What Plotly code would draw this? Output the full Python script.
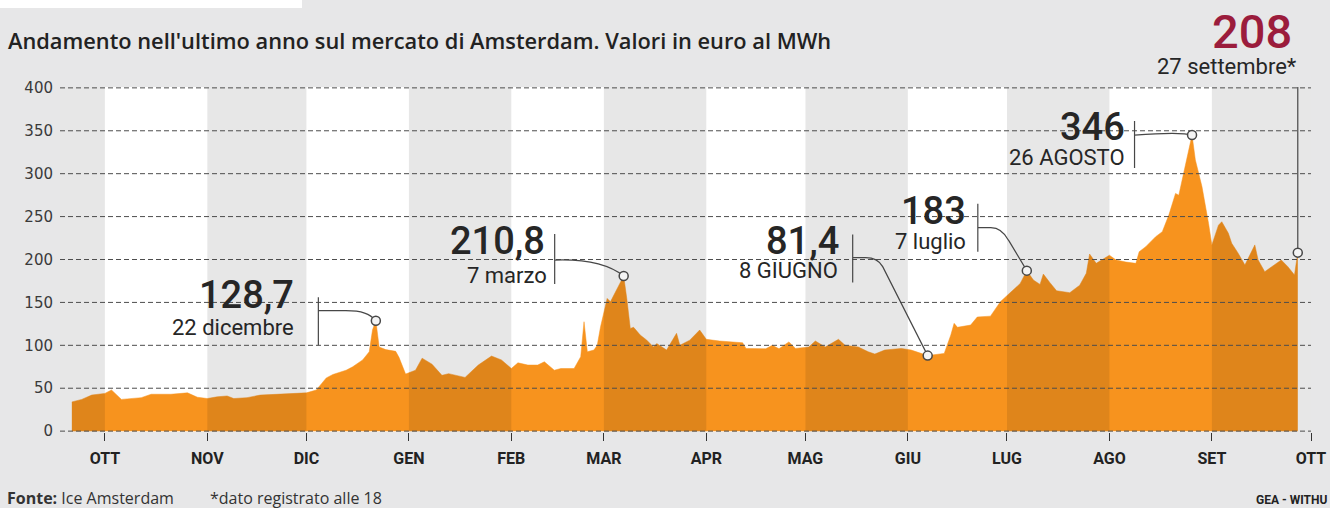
import plotly.graph_objects as go

# ---------------- data ----------------
dates = [
    "2021-09-21", "2021-09-24", "2021-09-27", "2021-10-01", "2021-10-03", "2021-10-05",
    "2021-10-06", "2021-10-12", "2021-10-15", "2021-10-21", "2021-10-26", "2021-10-29",
    "2021-11-01", "2021-11-04", "2021-11-07", "2021-11-09", "2021-11-13", "2021-11-17",
    "2021-11-22", "2021-11-27", "2021-12-01", "2021-12-04", "2021-12-07", "2021-12-09",
    "2021-12-13", "2021-12-15", "2021-12-18", "2021-12-20", "2021-12-21", "2021-12-22",
    "2021-12-23", "2021-12-25", "2021-12-28", "2021-12-29", "2021-12-31", "2022-01-03",
    "2022-01-05", "2022-01-08", "2022-01-11", "2022-01-13", "2022-01-18", "2022-01-22",
    "2022-01-26", "2022-01-29", "2022-02-01", "2022-02-03", "2022-02-06", "2022-02-09",
    "2022-02-11", "2022-02-14", "2022-02-16", "2022-02-20", "2022-02-22", "2022-02-23",
    "2022-02-24", "2022-02-26", "2022-02-27", "2022-02-28", "2022-03-02", "2022-03-03",
    "2022-03-06", "2022-03-07", "2022-03-08", "2022-03-09", "2022-03-10", "2022-03-12",
    "2022-03-14", "2022-03-16", "2022-03-17", "2022-03-20", "2022-03-23", "2022-03-24",
    "2022-03-27", "2022-03-30", "2022-04-01", "2022-04-05", "2022-04-12", "2022-04-13",
    "2022-04-19", "2022-04-21", "2022-04-23", "2022-04-26", "2022-04-28", "2022-05-02",
    "2022-05-04", "2022-05-07", "2022-05-11", "2022-05-13", "2022-05-17", "2022-05-20",
    "2022-05-22", "2022-05-25", "2022-05-30", "2022-06-02", "2022-06-07", "2022-06-12",
    "2022-06-14", "2022-06-15", "2022-06-16", "2022-06-20", "2022-06-22", "2022-06-26",
    "2022-06-29", "2022-07-03", "2022-07-05", "2022-07-07", "2022-07-09", "2022-07-11",
    "2022-07-12", "2022-07-14", "2022-07-16", "2022-07-20", "2022-07-23", "2022-07-25",
    "2022-07-26", "2022-07-28", "2022-08-01", "2022-08-03", "2022-08-06", "2022-08-09",
    "2022-08-10", "2022-08-12", "2022-08-15", "2022-08-17", "2022-08-19", "2022-08-21",
    "2022-08-22", "2022-08-24", "2022-08-26", "2022-08-27", "2022-08-29", "2022-08-31",
    "2022-09-01", "2022-09-03", "2022-09-04", "2022-09-06", "2022-09-07", "2022-09-09",
    "2022-09-11", "2022-09-14", "2022-09-15", "2022-09-17", "2022-09-19", "2022-09-22",
    "2022-09-24", "2022-09-26", "2022-09-27",
]
prices = [
    34, 37, 42, 44, 48, 40,
    37, 39, 43, 43, 44.6, 39.5,
    38, 40, 41, 38, 39, 42,
    43, 44, 44.6, 48, 62, 66,
    71, 75, 83, 92.5, 118, 128.7,
    98, 95, 93, 86, 66.5, 71,
    85, 78, 65, 67, 62.6, 77,
    87.5, 83, 73, 79.6, 77, 77,
    80.8, 71, 73, 73, 86.7, 127.5,
    92.5, 94.5, 100, 121.6, 154.7, 150.8,
    172, 180.7, 152.7, 119.7, 121, 112,
    106, 98, 102, 94.5, 114, 100,
    106, 117.8, 107, 105, 103, 96.4,
    96, 100, 96, 104, 96.4, 98,
    105, 98, 107, 100, 98, 92.5,
    89.8, 94.5, 96.4, 94.5, 88, 90.6,
    112, 125.6, 121, 123.6, 133, 134,
    150.8, 164.4, 172, 187, 176, 171,
    183, 173, 163.6, 161.3, 170, 184,
    206.4, 195.5, 205, 199.4, 197, 195.5,
    209, 215, 226.6, 232.4, 252, 277,
    275, 310, 345, 316, 285, 242,
    217, 240, 244, 230.5, 219, 207,
    193.6, 217, 199.4, 185.8, 191.6, 199.4,
    191.6, 182, 208,
]

month_ticks = [
    "2021-10-01", "2021-11-01", "2021-12-01", "2022-01-01", "2022-02-01", "2022-03-01",
    "2022-04-01", "2022-05-01", "2022-06-01", "2022-07-01", "2022-08-01", "2022-09-01",
    "2022-10-01",
]
month_labels = ["OTT", "NOV", "DIC", "GEN", "FEB", "MAR", "APR", "MAG", "GIU", "LUG",
                "AGO", "SET", "OTT"]
y_ticks = [0, 50, 100, 150, 200, 250, 300, 350, 400]

hl_dates = ["2021-12-22", "2022-03-07", "2022-06-07", "2022-07-07", "2022-08-26", "2022-09-27"]
hl_value_labels = ["128,7", "210,8", "81,4", "183", "346", "208"]
hl_date_labels = ["22 dicembre", "7 marzo", "8 GIUGNO", "7 luglio", "26 AGOSTO", "27 settembre*"]

title_text = "Andamento nell'ultimo anno sul mercato di Amsterdam. Valori in euro al MWh"
source_text = "<b>Fonte:</b> Ice Amsterdam"
note_text = "*dato registrato alle 18"
credit_text = "<b>GEA - WITHU</b>"

# ---------------- styling / layout ----------------
ORANGE = "#f7931e"
PAPER = "#e7e7e8"
INK = "#262626"
LINE = "#474747"
RED = "#9b1c3c"

W, H = 1330, 508
ML, MR, MT, MB = 60, 19, 87, 76
PW, PH = W - ML - MR, H - MT - MB


def px(x):
    return (x - ML) / PW


def py(y):
    return (H - MB - y) / PH


# label geometry, in pixels relative to the highlighted point (y up)
label_geom = [
    dict(path="M -57.5,-24.5 L -57.5,23.5 M -57.5,10 L -30,10 C -14,10 -6,7 0,0",
         big=(-80, 25.5), small=(-80, -6.5), big_size=38, color=INK),
    dict(path="M -69,-8 L -69,42 M -69,16 C -40,17 -15,12 0,0",
         big=(-77, 35), small=(-75, 1), big_size=38, color=INK),
    dict(path="M -75,73 L -75,121 M -75,98 L -62,98 Q -50,98 -45,89 L 0,0",
         big=(-87, 115), small=(-88, 85), big_size=38, color=INK),
    dict(path="M -49,19 L -49,67 M -49,43 L -36,43 Q -25,43 -18,30 L 0,0",
         big=(-59, 60), small=(-59, 29), big_size=38, color=INK),
    dict(path="M -57.5,-33 L -57.5,14 M -57.5,0 C -30,2 -10,3 0,0",
         big=(-65, 8), small=(-65, -22), big_size=38, color=INK),
    dict(path="M 0,0 L 0,176 M -144,171 L 0,171",
         big=(-4, 221), small=(1, 186), big_size=47, color=RED),
]

fig = go.Figure()
fig.add_trace(go.Scatter(
    x=dates, y=prices, mode="lines", fill="tozeroy",
    line=dict(color=ORANGE, width=0.5), fillcolor=ORANGE,
    hoverinfo="skip", showlegend=False,
))

x_start = "2021-09-17 10:00"
shapes = []
# grey month bands: darken the white plot background and the orange fill alike
band_edges = [x_start] + month_ticks
for i in range(len(band_edges) - 1):
    if i % 2 == 0:
        shapes.append(dict(type="rect", xref="x", yref="paper", x0=band_edges[i],
                           x1=band_edges[i + 1], y0=0, y1=1,
                           fillcolor="rgba(0,0,0,0.095)", line=dict(width=0),
                           layer="above"))
# dashed grid lines drawn over the area
for v in y_ticks:
    shapes.append(dict(type="line", xref="paper", yref="y", x0=0, x1=1, y0=v, y1=v,
                       line=dict(color="#4d4d4d", width=1, dash="5px,3px"),
                       layer="above"))

hl_values = [prices[dates.index(d)] for d in hl_dates]
annotations = []
for d, v, vt, dt, g in zip(hl_dates, hl_values, hl_value_labels, hl_date_labels, label_geom):
    shapes.append(dict(type="path", xref="x", yref="y", xsizemode="pixel",
                       ysizemode="pixel", xanchor=d, yanchor=v, path=g["path"],
                       line=dict(color=LINE, width=1.2), layer="above"))
    shapes.append(dict(type="circle", xref="x", yref="y", xsizemode="pixel",
                       ysizemode="pixel", xanchor=d, yanchor=v, x0=-4.5, x1=4.5,
                       y0=-4.5, y1=4.5, fillcolor="#f4f4f4",
                       line=dict(color=LINE, width=1.5), layer="above"))
    annotations.append(dict(x=d, y=v, xref="x", yref="y", text=vt, showarrow=False,
                            xanchor="right", yanchor="middle",
                            xshift=g["big"][0], yshift=g["big"][1],
                            font=dict(family="Roboto", size=g["big_size"], color=g["color"],
                                      weight=500)))
    annotations.append(dict(x=d, y=v, xref="x", yref="y", text=dt, showarrow=False,
                            xanchor="right", yanchor="middle",
                            xshift=g["small"][0], yshift=g["small"][1],
                            font=dict(family="Roboto", size=22, color=INK, weight=400)))

# top-left white strip
shapes.append(dict(type="rect", xref="paper", yref="paper", x0=px(0), x1=px(302),
                   y0=py(8), y1=py(0), fillcolor="white", line=dict(width=0)))

annotations += [
    dict(x=px(5), y=py(498), xref="paper", yref="paper", text=source_text,
         showarrow=False, xanchor="left", yanchor="middle",
         font=dict(family="Open Sans", size=16, color="#333")),
    dict(x=px(208), y=py(498), xref="paper", yref="paper", text=note_text,
         showarrow=False, xanchor="left", yanchor="middle",
         font=dict(family="Open Sans", size=16, color="#333")),
    dict(x=px(1329), y=py(500), xref="paper", yref="paper", text=credit_text,
         showarrow=False, xanchor="right", yanchor="middle",
         font=dict(family="Roboto", size=12, color="#222")),
]

fig.update_layout(
    width=W, height=H, autosize=False,
    margin=dict(l=ML, r=MR, t=MT, b=MB, autoexpand=False),
    paper_bgcolor=PAPER, plot_bgcolor="white",
    title=dict(text=title_text, x=8 / W, xref="container", xanchor="left",
               y=1 - 41 / H, yref="container", yanchor="middle",
               font=dict(family="Open Sans", size=21.8, color="#222", weight=600)),
    xaxis=dict(type="date", range=[x_start, "2022-10-01"], tickvals=month_ticks,
               ticktext=month_labels, ticks="outside", ticklen=8, tickcolor="#333",
               tickwidth=1, showgrid=False, zeroline=False, showline=False,
               ticklabelstandoff=4, automargin=False,
               tickfont=dict(family="Roboto", size=16, color="#222", weight="bold")),
    yaxis=dict(range=[-1, 401], tickvals=y_ticks, showgrid=False, zeroline=False,
               showline=False, ticks="", ticklabelstandoff=6, automargin=False,
               tickfont=dict(family="DejaVu Sans", size=15, color="#3a3a3a")),
    shapes=shapes, annotations=annotations, showlegend=False,
)

fig.write_html("out.html", config={"displayModeBar": False},
               post_script="document.body.style.margin='0';document.body.style.overflow='hidden';")
